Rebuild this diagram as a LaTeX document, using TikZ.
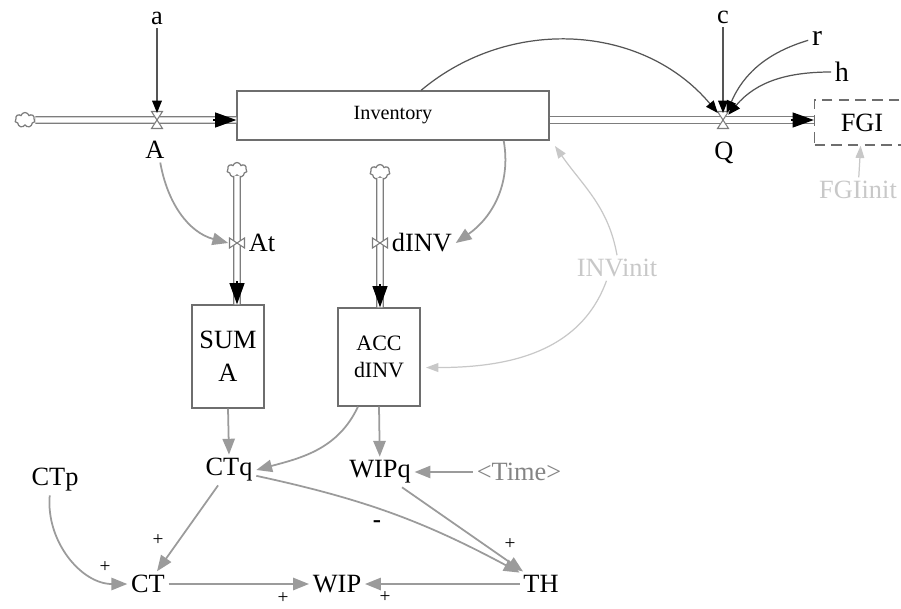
\documentclass[tikz,border=0pt]{standalone}
\usepackage{fontspec}
\setmainfont{Liberation Serif}
\usetikzlibrary{arrows.meta,shapes.symbols}
\definecolor{pipegray}{RGB}{125,125,125}
\definecolor{boxgray}{RGB}{110,110,110}
\definecolor{linkgray}{RGB}{155,155,155}
\definecolor{initgray}{RGB}{200,200,200}
\definecolor{ctrlgray}{RGB}{85,85,85}

\begin{document}
\begin{tikzpicture}[x=0.02cm, y=0.02cm]
\tikzstyle{every node}+=[inner sep=2pt, font=\fontsize{15}{16}\selectfont]
\tikzstyle{level}=[draw=boxgray, line width=0.8pt, inner sep=0pt, align=center]
\tikzstyle{pipe}=[draw=pipegray, line width=0.7pt, double=white, double distance=3pt]
\tikzstyle{pipetip}=[black, line width=0.6pt, -{Triangle[length=12pt,width=8.5pt]}]
\tikzstyle{valve}=[draw=pipegray, fill=white, line width=0.6pt]
\tikzstyle{source}=[cloud, cloud puffs=7, draw=pipegray, line width=0.7pt, minimum width=0.4cm, minimum height=0.3cm, inner sep=0pt]
\tikzstyle{ctrl}=[draw=ctrlgray, line width=0.7pt, -{Triangle[length=7pt,width=5.5pt,color=black]}]
\tikzstyle{link}=[draw=linkgray, line width=1pt, -{Triangle[length=9pt,width=7pt]}]
\tikzstyle{init}=[draw=initgray, line width=0.7pt, -{Triangle[length=7pt,width=5pt]}]
\tikzstyle{sign}=[font=\fontsize{11}{12}\selectfont]
\useasboundingbox (0,0) rectangle (901,-608);
\node[source] (cloudL) at (25,-120) {};
\coordinate (vA) at (157,-120);
\node (a) at (157,-18) {a};
\node (Alab) at (155,-150) {A};
\node[level, minimum width=6.24cm, minimum height=0.98cm, font=\fontsize{11.5}{12}\selectfont] (Inventory) at (393,-115.5) {Inventory};
\coordinate (vQ) at (723,-120);
\node (c) at (723,-17) {c};
\node[font=\fontsize{17}{18}\selectfont] (r) at (817,-38) {r};
\node[font=\fontsize{16}{17}\selectfont] (h) at (842,-72) {h};
\node (Qlab) at (724,-153) {Q};
\node[level, dashed, dash pattern=on 6pt off 3.5pt, minimum width=1.9cm, minimum height=0.9cm] (FGI) at (862,-122.5) {FGI};
\node[text=initgray] (FGIinit) at (858,-190) {FGIinit};
\node[source] (cloudAt) at (237,-170) {};
\coordinate (vAt) at (237,-243);
\node[anchor=west] (Atlab) at (245,-243) {At};
\node[level, minimum width=1.44cm, minimum height=2.06cm, font=\fontsize{15}{19}\selectfont] (SUMA) at (228,-356.5) {SUM\\A};
\node[source] (cloudD) at (380,-172) {};
\coordinate (vD) at (380,-243);
\node[anchor=west] (dINV) at (388,-243) {dINV};
\node[level, minimum width=1.64cm, minimum height=1.96cm, font=\fontsize{12.5}{15}\selectfont] (ACC) at (379,-357) {ACC\\dINV};
\node[text=initgray] (INVinit) at (617,-268) {INVinit};
\node (CTq) at (229,-470) {CTq};
\node (WIPq) at (380,-472) {WIPq};
\node[text=linkgray!85!black] (Time) at (519,-472) {<Time>};
\node (CTp) at (55,-480) {CTp};
\node (CT) at (148,-584) {CT};
\node (WIP) at (337,-584) {WIP};
\node (TH) at (541,-584) {TH};
\node[sign] (sCTp) at (105,-567) {+};
\node[sign] (sCTq) at (158,-540) {+};
\node[sign] (sCT) at (283,-598) {+};
\node[sign] (sTH) at (385,-597) {+};
\node[sign, font=\fontsize{14}{14}\bfseries] (sneg) at (377,-524) {-};
\node[sign] (sWIPq) at (510,-544) {+};
\coordinate (inA) at (Inventory.west |- vA);
\coordinate (outQ) at (Inventory.east |- vQ);
\coordinate (inFGI) at (FGI.west |- vQ);
\coordinate (inSUM) at (SUMA.north -| vAt);
\coordinate (inACC) at (ACC.north -| vD);
\draw[pipe] (cloudL) -- (inA);
\draw[pipe] (outQ) -- (inFGI);
\draw[pipe] (cloudAt) -- (inSUM);
\draw[pipe] (cloudD) -- (inACC);
\draw[pipetip] ([xshift=-13pt]inA) -- (inA);
\draw[pipetip] ([xshift=-13pt]inFGI) -- (inFGI);
\draw[pipetip] ([yshift=13pt]inSUM) -- (inSUM);
\draw[pipetip] ([yshift=13pt]inACC) -- (inACC);
\draw[valve] (vA) ++(-5.5,8.5) -- ++(11,0) -- ++(-11,-17) -- ++(11,0) -- cycle;
\draw[valve] (vQ) ++(-5.5,8.5) -- ++(11,0) -- ++(-11,-17) -- ++(11,0) -- cycle;
\draw[valve] (vAt) ++(-7.5,5) -- ++(15,-10) -- ++(0,10) -- ++(-15,-10) -- cycle;
\draw[valve] (vD) ++(-7.5,5) -- ++(15,-10) -- ++(0,10) -- ++(-15,-10) -- cycle;
\draw[ctrl] (a) -- ([yshift=4pt]vA);
\draw[ctrl] (c) -- ([yshift=4pt]vQ);
\draw[ctrl] (r) to[bend right=25] ([shift={(2pt,4pt)}]vQ);
\draw[ctrl] (h) to[out=180,in=50] ([shift={(3pt,3pt)}]vQ);
\draw[ctrl] ([xshift=16pt]Inventory.north) to[out=40,in=130] ([shift={(-3pt,4pt)}]vQ);
\draw[link] ([xshift=3pt]Alab.south) to[out=-80,in=165] ([xshift=-5pt]vAt);
\draw[link] ([xshift=63pt]Inventory.south) to[out=-80,in=35] (dINV.east);
\draw[link] ([xshift=-12pt]ACC.south) to[out=-115,in=15] (CTq.east);
\draw[link] (ACC.south) -- (WIPq);
\draw[link] (SUMA.south) -- (CTq.north);
\draw[link] (Time) -- (WIPq);
\draw[link] ([xshift=-3pt]CTp.south) to[out=-95,in=180] (CT.west);
\draw[link] (CTq) -- (CT);
\draw[link] (CT) -- (WIP);
\draw[link] (TH) -- (WIP);
\draw[link] (CTq) to[bend left=8] (TH);
\draw[link] (WIPq) -- (TH);
\draw[init] (FGIinit) -- (FGI);
\draw[init] (INVinit.north) to[out=100,in=-55] ([shift={(3pt,-3pt)}]Inventory.south east);
\draw[init] ([xshift=-6pt]INVinit.south) to[out=-110,in=0] ([shift={(3pt,-6pt)}]ACC.east);
\end{tikzpicture}
\end{document}
